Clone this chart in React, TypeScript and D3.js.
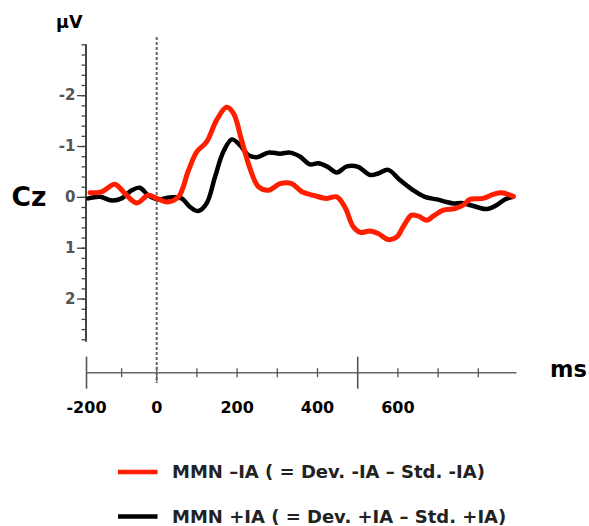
import React, { useEffect, useRef } from 'react'
import * as d3 from 'd3'

// MMN -IA (red)
const redTimes = [-190, -157, -119, -95, -57, -24, 0, 25, 54, 79, 100, 124, 149, 174, 191, 211, 232, 253, 278, 307, 336, 361, 390, 423, 448, 468, 489, 506, 531, 551, 576, 597, 613, 634, 651, 672, 688, 713, 742, 763, 779, 812, 837, 858, 887]
const redValues = [-0.08, -0.1, -0.25, -0.1, 0.12, -0.03, 0.03, 0.1, 0, -0.52, -0.89, -1.08, -1.51, -1.76, -1.64, -1.12, -0.56, -0.2, -0.13, -0.26, -0.26, -0.1, -0.03, 0.03, 0, 0.2, 0.59, 0.7, 0.67, 0.72, 0.84, 0.79, 0.59, 0.36, 0.38, 0.46, 0.38, 0.26, 0.23, 0.16, 0.05, 0.03, -0.05, -0.08, -0.01]

// MMN +IA (black)
const blackTimes = [-195, -162, -128, -100, -71, -48, -24, 4, 33, 62, 83, 103, 124, 145, 166, 187, 207, 228, 249, 278, 307, 332, 357, 381, 402, 423, 448, 473, 501, 531, 551, 576, 605, 638, 667, 697, 721, 738, 759, 788, 821, 846, 866, 887]
const blackValues = [0.03, 0, 0.07, 0.03, -0.13, -0.18, -0.03, 0.05, 0.01, 0.03, 0.2, 0.28, 0.13, -0.39, -0.89, -1.13, -1.02, -0.82, -0.78, -0.87, -0.85, -0.87, -0.79, -0.64, -0.66, -0.6, -0.48, -0.6, -0.59, -0.43, -0.46, -0.53, -0.33, -0.13, 0, 0.05, 0.1, 0.13, 0.12, 0.18, 0.24, 0.16, 0.05, 0]

const yLabels = [-2, -1, 0, 1, 2]
const xLabels = [-200, 0, 200, 400, 600]
const xMinorTicks = [-100, 100, 200, 300, 400, 600, 700, 800]
const xLongTicks = [-200, 500]

const legendItems = [
  { label: 'MMN \u2013IA ( = Dev. -IA \u2013 Std. -IA)', color: '#ff1e00' },
  { label: 'MMN +IA ( = Dev. +IA \u2013 Std. +IA)', color: '#000000' },
]

const W = 589
const H = 526
const FONT = '"DejaVu Sans", Arial, sans-serif'

export default function App() {
  const ref = useRef<SVGSVGElement>(null)

  useEffect(() => {
    const svg = d3.select(ref.current)
    svg.selectAll('*').remove()

    const x = d3.scaleLinear().domain([-200, 0, 900]).range([86.5, 156.7, 518.5])
    const y = d3.scaleLinear().domain([-3, 2.85]).range([44.3, 341.8])
    const axisX = 86
    const baseY = 372.7

    // y axis
    const minor = d3.range(-3, 2.81, 0.2).map(v => Math.round(v * 10) / 10)
    const yAxis = svg.append('g').attr('transform', 'translate(' + axisX + ',0)')
    yAxis.append('g')
      .call(d3.axisLeft(y).tickValues(minor).tickSize(4.5).tickFormat(() => ''))
      .call(g => g.select('.domain').remove())
      .selectAll('line').attr('stroke', '#444').attr('stroke-width', 1.3)
    yAxis.append('g')
      .call(d3.axisLeft(y).tickValues(yLabels).tickSize(9).tickPadding(1.5).tickFormat(d => String(d)))
      .call(g => g.select('.domain').remove())
      .call(g => g.selectAll('line').attr('stroke', '#444').attr('stroke-width', 1.3))
      .selectAll('text')
      .style('font-family', FONT)
      .style('font-size', '15px')
      .style('font-weight', 'bold')
      .attr('fill', '#555')
    yAxis.append('line')
      .attr('y1', y(-3)).attr('y2', y(2.85))
      .attr('stroke', '#444').attr('stroke-width', 2)

    // dashed zero line
    svg.append('line')
      .attr('x1', x(0)).attr('x2', x(0))
      .attr('y1', 37).attr('y2', 383)
      .attr('stroke', '#666').attr('stroke-width', 2)
      .attr('stroke-dasharray', '3,2')

    // x axis
    svg.append('line')
      .attr('x1', x(-200)).attr('x2', x(895))
      .attr('y1', baseY).attr('y2', baseY)
      .attr('stroke', '#666').attr('stroke-width', 1.6)
    svg.selectAll('.xminor').data(xMinorTicks).enter().append('line')
      .attr('x1', d => x(d)).attr('x2', d => x(d))
      .attr('y1', baseY - 4.5).attr('y2', baseY + 4.5)
      .attr('stroke', '#555').attr('stroke-width', 1.3)
    svg.selectAll('.xlong').data(xLongTicks).enter().append('line')
      .attr('x1', d => x(d)).attr('x2', d => x(d))
      .attr('y1', baseY - 16).attr('y2', baseY + 16)
      .attr('stroke', '#555').attr('stroke-width', 1.6)
    svg.append('line')
      .attr('x1', x(0)).attr('x2', x(0))
      .attr('y1', baseY - 6).attr('y2', baseY + 9)
      .attr('stroke', '#666').attr('stroke-width', 1.5)
    svg.selectAll('.xlab').data(xLabels).enter().append('text')
      .attr('x', d => x(d))
      .attr('y', 413)
      .attr('text-anchor', 'middle')
      .style('font-family', FONT)
      .style('font-size', '16px')
      .style('font-weight', 'bold')
      .text(d => String(d))

    // titles
    svg.append('text').attr('x', 550).attr('y', 376.7)
      .style('font-family', FONT).style('font-size', '22.5px').style('font-weight', 'bold')
      .text('ms')
    svg.append('text').attr('x', 56).attr('y', 28)
      .style('font-family', FONT).style('font-size', '17.5px').style('font-weight', 'bold')
      .text('\u00b5V')
    svg.append('text').attr('x', 11.5).attr('y', 206)
      .style('font-family', FONT).style('font-size', '26.5px').style('font-weight', 'bold')
      .text('Cz')

    // curves
    const line = d3.line<[number, number]>()
      .x(d => x(d[0]))
      .y(d => y(d[1]))
      .curve(d3.curveCatmullRom.alpha(0.5))

    const blackData = blackTimes.map((t, i) => [t, blackValues[i]] as [number, number])
    const redData = redTimes.map((t, i) => [t, redValues[i]] as [number, number])

    svg.append('path').attr('d', line(blackData))
      .attr('fill', 'none').attr('stroke', '#000')
      .attr('stroke-width', 4.5).attr('stroke-linejoin', 'round').attr('stroke-linecap', 'round')
    svg.append('path').attr('d', line(redData))
      .attr('fill', 'none').attr('stroke', '#ff1e00')
      .attr('stroke-width', 5).attr('stroke-linejoin', 'round').attr('stroke-linecap', 'round')

    // legend
    const legend = svg.selectAll('.leg').data(legendItems).enter().append('g')
      .attr('transform', (d, i) => 'translate(0,' + (472 + i * 44.5) + ')')
    legend.append('line')
      .attr('x1', 118).attr('x2', 157.5)
      .attr('stroke', d => d.color).attr('stroke-width', 4.5)
    legend.append('text')
      .attr('x', 172).attr('y', 6)
      .style('font-family', FONT).style('font-size', '18px').style('font-weight', 'bold')
      .attr('fill', '#222')
      .text(d => d.label)
  }, [])

  return (
    <svg ref={ref} width={W} height={H}
      style={{ position: 'absolute', left: 0, top: 0, background: '#fff', display: 'block' }} />
  )
}
